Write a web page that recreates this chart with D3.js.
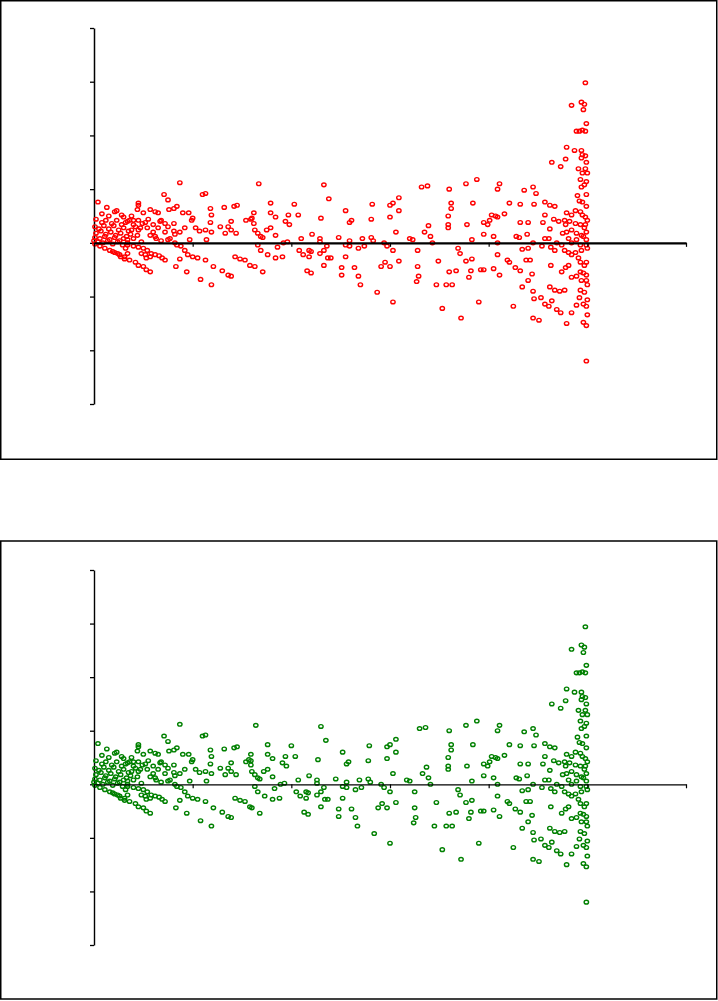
<!DOCTYPE html>
<html>
<head>
<meta charset="utf-8">
<script src="https://cdn.jsdelivr.net/npm/d3@7/dist/d3.min.js"></script>
<style>
  html, body { margin: 0; padding: 0; background: #ffffff; }
  svg { display: block; }
</style>
</head>
<body>
<svg id="chart" width="718" height="1001"></svg>
<script>
// ---- Data (x: fitted value, y: residual) ----
const xTicks = [0, 100, 200, 300, 400, 500, 600];
const yTicks = [-150, -100, -50, 0, 50, 100, 150, 200];

const redPoints = [
[2,22],[8,19],[12,21],[18,18],[23,21],[28,17],[32,19],[1,15],[5,13],[10,16],[15,13],[20,16],[25,12],[30,14],[35,11],[2,9],[7,11],[12,8],[17,10],[22,7],[27,9],[33,6],[37,8],[1,5],[6,4],[11,6],[16,3],[21,5],[26,2],[30,4],[0,2],[4,1],[9,0],[14,2],[19,-1],[24,1],[29,-2],[34,0],
[40,17],[47,14],[52,19],[38,25],[30,24],[15,25],[8,27],[55,22],[60,17],[65,14],
[87,56],[4,38],[13,33],[45,37],[45,35],[50,28],[44,31],[21,29],[23,30],[28,26],[57,31],[62,29],[65,28],[71,45],[75,40],[76,31],[84,34],[81,32],[90,28],[96,28],[100,23],[99,21],[110,45],[113,46],[118,32],[119,26],[118,19],[132,33],[142,34],[145,35],[162,28],
[154,21],[159,22],[163,12],[139,20],[136,15],[139,12],[144,9],[133,9],[128,15],[107,11],[113,12],[119,10],[114,3],[103,14],[92,14],[81,18],[81,11],[82,8],[72,10],[75,3],[77,4],[68,2],[63,4],[60,10],[67,20],[68,21],[62,6],[57,7],[54,14],[49,18],[45,21],[40,21],[36,21],[34,20],[42,15],[38,12],[45,12],[44,7],[40,4],[34,3],[48,1],[97,3],[87,10],[75,15],[72,18],
[1,-1],[6,-3],[11,-5],[16,-7],[21,-9],[26,-11],[31,-13],[36,-16],[42,-18],[45,-21],[50,-22],[53,-25],[57,-27],
[34,-2],[40,-3],[45,-4],[50,-5],[54,-7],[58,-10],[62,-11],[66,-12],[69,-14],[72,-16],[57,-13],[52,-11],[53,-14],[48,-10],[19,-8],[24,-10],[27,-13],[31,-15],[34,-10],[32,-5],
[83,-22],[94,-27],[108,-34],[119,-39],[87,-15],[92,-7],[95,-11],[100,-13],[105,-14],[113,-16],[121,-22],[130,-26],[136,-30],[139,-31],[143,-13],[148,-15],[153,-16],[158,-21],[163,-22],[84,-2],[88,-3],[82,0],
[167,55],[160,23],[162,18],[166,9],[169,6],[171,5],[166,-2],[169,-7],[176,-11],[171,-27],
[179,37],[179,28],[184,24],[175,12],[179,14],[184,7],[186,-4],[192,0],[196,1],[184,-14],[191,-13],[194,20],[198,17],[197,26],[203,36],[207,26],[210,4],[208,-7],[212,-11],[218,-7],[220,-8],[218,-13],[216,-26],[220,-28],[221,8],[230,23],[233,54],[238,41],[229,4],[229,1],[233,-7],[229,-10],[236,-3],[237,-14],[240,-14],[233,-21],[248,5],[255,30],[259,19],[261,21],[255,-2],[259,2],[259,-3],[255,-13],[251,-23],[251,-30],[264,-23],[268,-5],[268,-31],[270,-39],[274,-3],[272,4],[281,22],[282,36],[281,5],[283,2],[287,-46],[291,-22],[295,-18],[300,-22],[294,0],[297,-3],[303,-7],[306,10],[309,30],[300,24],[300,35],[303,37],[309,42],[309,-17],[303,-55],
[320,4],[323,3],[332,52],[338,53],[339,16],[335,10],[341,6],[343,0],[328,-7],[349,-17],[328,-22],[329,-31],[327,-36],[347,-39],[353,-61],[360,50],[362,37],[362,32],[359,25],[359,17],[359,14],[369,-5],[371,-10],[377,-17],[383,-15],[357,-39],[363,-39],[360,-27],[367,-26],[377,55],[388,59],[384,37],[378,17],[383,3],[382,-26],[380,-32],[392,-25],[395,-25],[390,-55],[372,-70],[395,19],[399,17],[401,21],[403,26],[407,25],[409,24],[409,50],[395,8],[405,6],[409,0],[409,-11],[405,-24],[411,-30],[411,55],
[498,149],[484,128],[494,131],[497,129],[496,124],[499,111],[489,104],[492,104],[495,105],[498,104],[479,89],[487,86],[494,86],[495,82],[494,79],[498,81],[478,78],[464,75],[473,71],[499,75],[491,69],[498,69],[495,65],[493,59],[500,65],[499,57],[494,52],[436,49],[445,52],[448,46],[490,44],[499,45],[492,39],[495,38],[457,38],[462,35],[467,34],[446,36],[432,36],[421,37],[416,27],[488,30],[493,29],[499,34],[479,28],[484,26],[495,26],[498,24],[457,26],[466,22],[471,20],[455,19],[432,19],[440,19],[477,21],[482,20],[488,18],[493,17],[498,17],[478,17],[462,13],[475,9],[479,10],[484,12],[489,9],[494,7],[499,10],[439,8],[428,6],[431,5],[457,4],[461,4],[481,4],[489,3],[499,3],[496,6],[445,0],[454,-3],[469,0],[474,-2],[484,0],[493,-2],[499,-2],[500,-5],[434,-6],[440,-5],[463,-4],[467,-7],[477,-7],[481,-9],[484,-11],[488,-9],[494,-7],[419,-16],[421,-18],[427,-23],[432,-26],[440,-35],[444,-29],[438,-16],[442,-16],[463,-21],[478,-23],[481,-21],[474,-27],[493,-18],[499,-18],[493,-27],[496,-28],[499,-30],[489,-31],[494,-35],[499,-35],[484,-32],[434,-41],[462,-41],[467,-44],[472,-45],[477,-44],[493,-44],[445,-45],[446,-52],[453,-51],[492,-51],[425,-59],[457,-57],[461,-59],[464,-54],[469,-62],[473,-65],[484,-65],[496,-57],[499,-59],[445,-70],[451,-72],[479,-75],[496,-74],[499,-77],[499,-110],[497,54],[500,21],[497,14],[491,-14],[497,-21],[500,-39],[497,-46],[500,-53],[489,-58],[500,-67]
];

const greenPoints = [
[2,22],[8,19],[12,21],[18,18],[23,21],[28,17],[32,19],[1,15],[5,13],[10,16],[15,13],[20,16],[25,12],[30,14],[35,11],[2,9],[7,11],[12,8],[17,10],[22,7],[27,9],[33,6],[37,8],[1,5],[6,4],[11,6],[16,3],[21,5],[26,2],[30,4],[0,2],[4,1],[9,0],[14,2],[19,-1],[24,1],[29,-2],[34,0],
[40,17],[47,14],[52,19],[38,25],[30,24],[15,25],[8,27],[55,22],[60,17],[65,14],
[87,56],[4,38],[13,33],[45,37],[45,35],[50,28],[44,31],[21,29],[23,30],[28,26],[57,31],[62,29],[65,28],[71,45],[75,40],[76,31],[84,34],[81,32],[90,28],[96,28],[100,23],[99,21],[110,45],[113,46],[118,32],[119,26],[118,19],[132,33],[142,34],[145,35],[159,28],
[154,21],[159,22],[160,12],[139,20],[136,15],[139,12],[144,9],[133,9],[128,15],[107,11],[113,12],[119,10],[114,3],[103,14],[92,14],[81,18],[81,11],[82,8],[72,10],[75,3],[77,4],[68,2],[63,4],[60,10],[67,20],[68,21],[62,6],[57,7],[54,14],[49,18],[45,21],[40,21],[36,21],[34,20],[42,15],[38,12],[45,12],[44,7],[40,4],[34,3],[48,1],[97,3],[87,10],[75,15],[72,18],
[1,-1],[6,-3],[11,-5],[16,-7],[21,-9],[26,-11],[31,-13],[36,-16],[42,-18],[45,-21],[50,-22],[53,-25],[57,-27],
[34,-2],[40,-3],[45,-4],[50,-5],[54,-7],[58,-10],[62,-11],[66,-12],[69,-14],[72,-16],[57,-13],[52,-11],[53,-14],[48,-10],[19,-8],[24,-10],[27,-13],[31,-15],[34,-10],[32,-5],
[83,-22],[94,-27],[108,-34],[119,-39],[87,-15],[92,-7],[95,-11],[100,-13],[105,-14],[113,-16],[121,-22],[130,-26],[136,-30],[139,-31],[143,-13],[148,-15],[153,-16],[158,-21],[160,-22],[84,-2],[88,-3],[82,0],
[164,55],[157,23],[159,18],[163,9],[166,6],[168,5],[163,-2],[166,-7],[173,-11],[168,-27],
[176,37],[176,28],[181,24],[172,12],[176,14],[181,7],[183,-4],[189,0],[193,1],[181,-14],[188,-13],[191,20],[195,17],[194,26],[200,36],[204,26],[207,4],[205,-7],[209,-11],[215,-7],[217,-8],[215,-13],[213,-26],[217,-28],[218,8],[227,23],[230,54],[235,41],[226,4],[226,1],[230,-7],[226,-10],[233,-3],[234,-14],[237,-14],[230,-21],[245,5],[252,30],[256,19],[258,21],[252,-2],[256,2],[256,-3],[252,-13],[248,-23],[248,-30],[261,-23],[265,-5],[265,-31],[267,-39],[271,-3],[269,4],[278,22],[279,36],[278,5],[280,2],[284,-46],[288,-22],[292,-18],[297,-22],[291,0],[294,-3],[300,-7],[303,10],[306,30],[297,24],[297,35],[300,37],[306,42],[306,-17],[300,-55],
[317,4],[320,3],[330,52],[336,53],[337,16],[333,10],[339,6],[341,0],[325,-7],[347,-17],[325,-22],[326,-31],[324,-36],[345,-39],[353,-61],[360,50],[362,37],[362,32],[359,25],[359,17],[359,14],[369,-5],[371,-10],[377,-17],[383,-15],[357,-39],[363,-39],[360,-27],[367,-26],[377,55],[388,59],[384,37],[378,17],[383,3],[382,-26],[380,-32],[392,-25],[395,-25],[390,-55],[372,-70],[395,19],[399,17],[401,21],[403,26],[407,25],[409,24],[409,50],[395,8],[405,6],[409,0],[409,-11],[405,-24],[411,-30],[411,55],
[498,147],[484,126],[494,130],[497,128],[496,123],[499,111],[489,104],[492,104],[495,105],[498,104],[479,89],[487,86],[494,86],[495,82],[494,79],[498,81],[478,78],[464,75],[473,71],[499,75],[491,69],[498,69],[495,65],[493,59],[500,65],[499,57],[494,52],[436,49],[445,52],[448,46],[490,44],[499,45],[492,39],[495,38],[457,38],[462,35],[467,34],[446,36],[432,36],[421,37],[416,27],[488,30],[493,29],[499,34],[479,28],[484,26],[495,26],[498,24],[457,26],[466,22],[471,20],[455,19],[432,19],[440,19],[477,21],[482,20],[488,18],[493,17],[498,17],[478,17],[462,13],[475,9],[479,10],[484,12],[489,9],[494,7],[499,10],[439,8],[428,6],[431,5],[457,4],[461,4],[481,4],[489,3],[499,3],[496,6],[445,0],[454,-3],[469,0],[474,-2],[484,0],[493,-2],[499,-2],[500,-5],[434,-6],[440,-5],[463,-4],[467,-7],[477,-7],[481,-9],[484,-11],[488,-9],[494,-7],[419,-16],[421,-18],[427,-23],[432,-26],[440,-35],[444,-29],[438,-16],[442,-16],[463,-21],[478,-23],[481,-21],[474,-27],[493,-18],[499,-18],[493,-27],[496,-28],[499,-30],[489,-31],[494,-35],[499,-35],[484,-32],[434,-41],[462,-41],[467,-44],[472,-45],[477,-44],[493,-44],[445,-45],[446,-52],[453,-51],[492,-51],[425,-59],[457,-57],[461,-59],[464,-54],[469,-62],[473,-65],[484,-65],[496,-57],[499,-59],[445,-70],[451,-72],[479,-75],[496,-74],[499,-77],[499,-110],[497,54],[500,21],[497,14],[491,-14],[497,-21],[500,-39],[497,-46],[500,-53],[489,-58],[500,-67]
];

// ---- Layout ----
const svg = d3.select("#chart");
svg.append("rect").attr("x", 0).attr("y", 0).attr("width", 718).attr("height", 1001).attr("fill", "#fff");

const panels = [
  { points: redPoints,   color: "#ff0000", box: [0.75, 0.75, 716, 458.5], yRange: [404, 28],  xAxisW: 2.2, yAxisW: 1.5 },
  { points: greenPoints, color: "#008000", box: [0.75, 541, 716, 458],    yRange: [945, 570], xAxisW: 1.3, yAxisW: 1.4 }
];

const x = d3.scaleLinear().domain([0, 600]).range([94, 686]);

panels.forEach(p => {
  const g = svg.append("g");
  g.append("rect")
    .attr("x", p.box[0]).attr("y", p.box[1])
    .attr("width", p.box[2]).attr("height", p.box[3])
    .attr("fill", "#fff").attr("stroke", "#000").attr("stroke-width", 1.5);

  const y = d3.scaleLinear().domain([-150, 200]).range(p.yRange);

  // y axis
  const ya = g.append("g").attr("transform", `translate(${x(0)},0)`)
    .call(d3.axisLeft(y).tickValues(yTicks).tickSizeInner(4).tickSizeOuter(0).tickFormat(() => ""));
  ya.select(".domain").attr("stroke", "#000").attr("stroke-width", p.yAxisW);
  ya.selectAll(".tick line").attr("stroke", "#000").attr("stroke-width", 1.3);
  ya.selectAll("text").remove();

  // points
  g.append("g").selectAll("ellipse").data(p.points).join("ellipse")
    .attr("cx", d => x(d[0]))
    .attr("cy", d => y(d[1]))
    .attr("rx", 2.2).attr("ry", 1.85)
    .attr("fill", "none")
    .attr("stroke", p.color)
    .attr("stroke-width", 1.4);

  // x axis at zero
  const xa = g.append("g").attr("transform", `translate(0,${y(0)})`)
    .call(d3.axisBottom(x).tickValues(xTicks).tickSizeInner(4).tickSizeOuter(0).tickFormat(() => ""));
  xa.select(".domain").attr("stroke", "#000").attr("stroke-width", p.xAxisW);
  xa.selectAll(".tick line").attr("stroke", "#000").attr("stroke-width", 1.2);
  xa.selectAll("text").remove();
});
</script>
</body>
</html>
